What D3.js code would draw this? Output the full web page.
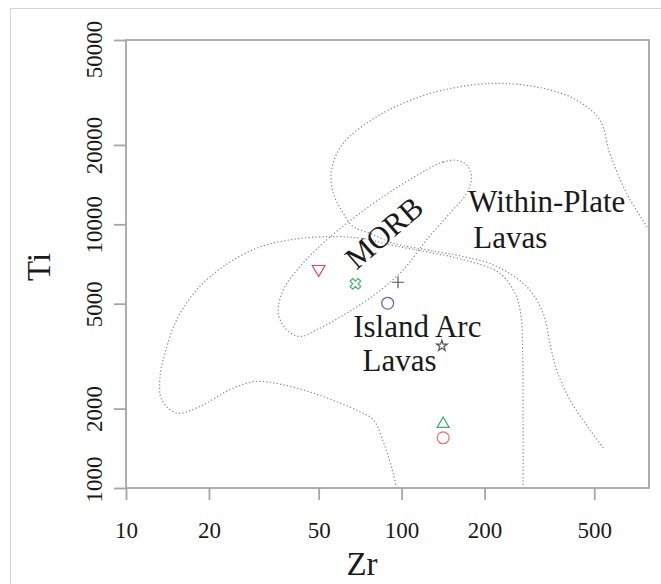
<!DOCTYPE html>
<html>
<head>
<meta charset="utf-8">
<script src="https://cdn.jsdelivr.net/npm/d3@7"></script>
<style>
  body { margin: 0; background: #fff; }
  svg text { font-family: "Liberation Serif", "Times New Roman", serif; fill: #1a1a1a; }
</style>
</head>
<body>
<div id="chart"></div>
<script>
// tick values
const xTicks = [10, 20, 50, 100, 200, 500];
const yTicks = [1000, 2000, 5000, 10000, 20000, 50000];

// samples: Zr, Ti (ppm)
const sampleZr = [50, 68, 97, 89, 140, 141.5, 141.5];
const sampleTi = [6760, 5950, 6030, 5020, 3460, 1750, 1550];
const sampleShape = ['triDown', 'cross', 'plus', 'circle', 'star', 'triUp', 'circle'];
const sampleColor = ['#e0455e', '#4aae74', '#555555', '#6a62b0', '#555555', '#3fa56c', '#ea6f60'];

// field boundaries [Zr, Ti]
const withinPlateLine = [
  [865, 8140], [789, 9520], [655, 13120], [569, 18600], [524, 24860], [431, 29600],
  [326, 32800], [227, 34250], [163, 33250], [116.5, 30470], [81.2, 25590], [61.4, 20290],
  [55.7, 16080], [56.5, 13120], [61.4, 11020], [66.7, 9800], [76.7, 9250], [93.2, 8480],
  [123.2, 8000], [163, 7590], [215, 7020], [284, 5810], [326, 4605], [345, 3545],
  [365, 2808], [408, 2161], [482, 1663], [546, 1397]
];
const islandArcLine = [
  [95.9, 1000], [93.2, 1140], [87.0, 1438], [78.9, 1815], [70.6, 1946], [59.7, 2100],
  [47.8, 2291], [37.2, 2463], [29.4, 2534], [23.8, 2358], [18.55, 2038], [15.27, 1924],
  [13.48, 2161], [13.29, 2648], [13.86, 3248], [15.27, 4342], [18.05, 5641], [22.54, 6915],
  [29.8, 8120], [39.3, 8730], [53.5, 8980], [70.6, 8860], [93.2, 8318], [123.2, 7860],
  [163, 7393], [227, 6527], [261, 5322], [272, 4342], [275, 3248], [276, 1815], [276, 1000]
];
const morbLine = [
  [158.3, 17470], [141.5, 17240], [123.2, 16080], [93.2, 13500], [70.6, 11020], [53.5, 8730],
  [42.8, 6915], [37.2, 5641], [35.7, 4605], [38.3, 3979], [42.8, 3754], [49.2, 3979],
  [63.2, 4605], [81.2, 5481], [101.3, 6719], [123.2, 8730], [149.7, 11020], [172.1, 13120],
  [179.4, 15160], [172.1, 16800]
];

// field names
const fieldText = ['Within-Plate', 'Lavas', 'Island Arc', 'Lavas'];
const fieldZr = [174.4, 181.9, 66.7, 72.2];
const fieldTi = [11170, 8120, 3754, 2766];

const width = 661;
const height = 584;
const plot = { left: 126, right: 649, top: 40, bottom: 488 };

const svg = d3.select('#chart').append('svg')
  .attr('width', width)
  .attr('height', height);

// outer frame of the figure
svg.append('rect')
  .attr('x', 10.5).attr('y', 8.5)
  .attr('width', 700).attr('height', 700)
  .attr('fill', 'none')
  .attr('stroke', '#d4d4d4')
  .attr('stroke-width', 1);

const x = d3.scaleLog().domain([10, 790]).range([plot.left, plot.right]);
const y = d3.scaleLog().domain([1000, 50000]).range([plot.bottom, plot.top]);

svg.append('clipPath').attr('id', 'plot-clip')
  .append('rect')
  .attr('x', plot.left).attr('y', plot.top)
  .attr('width', plot.right - plot.left)
  .attr('height', plot.bottom - plot.top);

/* dotted field boundaries */
const line = d3.line()
  .x((d) => x(d[0]))
  .y((d) => y(d[1]))
  .curve(d3.curveCatmullRom.alpha(0.5));

const fields = svg.append('g').attr('clip-path', 'url(#plot-clip)');
[withinPlateLine, islandArcLine].forEach((pts) => {
  fields.append('path')
    .attr('d', line(pts))
    .attr('fill', 'none')
    .attr('stroke', '#8a8a8a')
    .attr('stroke-width', 1.2)
    .attr('stroke-dasharray', '1.3,2.2');
});
fields.append('path')
  .attr('d', line.curve(d3.curveCatmullRomClosed.alpha(0.5))(morbLine))
  .attr('fill', 'none')
  .attr('stroke', '#8a8a8a')
  .attr('stroke-width', 1.2)
  .attr('stroke-dasharray', '1.3,2.2');

/* plot box */
svg.append('rect')
  .attr('x', plot.left).attr('y', plot.top)
  .attr('width', plot.right - plot.left)
  .attr('height', plot.bottom - plot.top)
  .attr('fill', 'none')
  .attr('stroke', '#a6a6a6')
  .attr('stroke-width', 1.8);

/* axes */
const xAxis = svg.append('g')
  .attr('transform', `translate(0,${plot.bottom})`)
  .call(d3.axisBottom(x).tickValues(xTicks).tickFormat(d3.format('d')).tickSize(12));
const yAxis = svg.append('g')
  .attr('transform', `translate(${plot.left},0)`)
  .call(d3.axisLeft(y).tickValues(yTicks).tickFormat(d3.format('d')).tickSize(12));

[xAxis, yAxis].forEach((ax) => {
  ax.select('.domain').remove();
  ax.selectAll('line').attr('stroke', '#a6a6a6').attr('stroke-width', 1.8);
  ax.selectAll('text')
    .attr('font-family', '"Liberation Serif", serif')
    .attr('font-size', 23)
    .attr('fill', '#1a1a1a');
});

xAxis.selectAll('text').attr('y', 50).attr('dy', 0);

// y labels run along the axis; the end ones are pulled inward
yAxis.selectAll('text')
  .attr('text-anchor', 'middle')
  .attr('dy', 0)
  .attr('y', -24)
  .attr('x', (d, i) => (i === 0 ? 9 : (i === yTicks.length - 1 ? -9 : 0)))
  .attr('transform', 'rotate(-90)');

/* axis titles */
svg.append('text')
  .attr('x', 362).attr('y', 575)
  .attr('text-anchor', 'middle')
  .attr('font-size', 33)
  .text('Zr');
svg.append('text')
  .attr('transform', `translate(50,${(plot.top + plot.bottom) / 2 + 3}) rotate(-90)`)
  .attr('text-anchor', 'middle')
  .attr('font-size', 33)
  .text('Ti');

/* field labels */
svg.append('g').selectAll('text')
  .data(fieldText)
  .join('text')
  .attr('x', (d, i) => x(fieldZr[i]))
  .attr('y', (d, i) => y(fieldTi[i]))
  .attr('font-size', 31)
  .text((d) => d);

svg.append('text')
  .attr('transform', `translate(${x(86.3)},${y(9300)}) rotate(-41)`)
  .attr('text-anchor', 'middle')
  .attr('dominant-baseline', 'central')
  .attr('font-size', 31)
  .text('MORB');

/* sample symbols */
const symbolPath = {
  triDown: d3.symbol(d3.symbolTriangle, 70)(),
  triUp: d3.symbol(d3.symbolTriangle, 62)(),
  cross: d3.symbol(d3.symbolCross, 70)(),
  circle: d3.symbol(d3.symbolCircle, 110)(),
  star: d3.symbol(d3.symbolStar, 36)(),
  plus: 'M-6,0H6M0,-6V6',
};
const symbolRotate = { triDown: 180, cross: 45 };

svg.append('g').selectAll('path')
  .data(sampleZr)
  .join('path')
  .attr('transform', (d, i) => `translate(${x(d)},${y(sampleTi[i])}) rotate(${symbolRotate[sampleShape[i]] || 0})`)
  .attr('d', (d, i) => symbolPath[sampleShape[i]])
  .attr('fill', 'none')
  .attr('stroke', (d, i) => sampleColor[i])
  .attr('stroke-width', 1.2);
</script>
</body>
</html>
